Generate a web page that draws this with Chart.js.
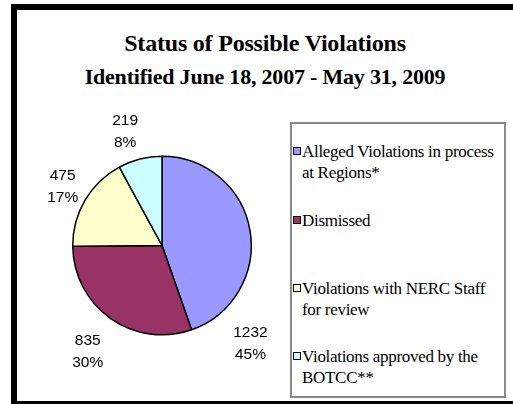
<!DOCTYPE html>
<html>
<head>
<meta charset="utf-8">
<script src="https://cdn.jsdelivr.net/npm/chart.js@4/dist/chart.umd.min.js"></script>
<style>
  html, body { margin: 0; padding: 0; width: 513px; height: 404px; overflow: hidden; background: #fff; }
  #frame { position: absolute; left: 11px; top: 4px; width: 540px; height: 403px; box-sizing: border-box; border: 6px solid #000; }
  #title { position: absolute; left: 17px; width: 496px; top: 26px; text-align: center; font-family: "Liberation Serif", "Times New Roman", serif; font-weight: bold; color: #000; }
  #title .l1 { font-size: 24px; line-height: 34px; letter-spacing: -0.2px; }
  #title .l2 { font-size: 22px; line-height: 34px; letter-spacing: -0.2px; }
  #legend { position: absolute; left: 290px; top: 122px; width: 216px; height: 276px; box-sizing: border-box; border: 2px solid #8a8a8a; font-family: "Liberation Serif", "Times New Roman", serif; font-size: 17px; color: #000; }
  .item { position: absolute; left: 1px; width: 213px; line-height: 21px; padding-left: 9px; box-sizing: border-box; letter-spacing: -0.3px; }
  .item .sw { position: absolute; left: 0; top: 6px; width: 6px; height: 6px; border: 1.5px solid #000; }
  #c { position: absolute; left: 0; top: 0; }
</style>
</head>
<body>
<div id="frame"></div>
<div id="title"><div class="l1">Status of Possible Violations</div><div class="l2">Identified June 18, 2007 - May 31, 2009</div></div>
<div id="legend"></div>
<canvas id="c" width="513" height="404"></canvas>
<script>
const categories = [
  "Alleged Violations in process at Regions*",
  "Dismissed",
  "Violations with NERC Staff for review",
  "Violations approved by the BOTCC**"
];
const counts = [1232, 835, 475, 219];
const percentLabels = ["45%", "30%", "17%", "8%"];
const sliceColors = ["#9999FF", "#993366", "#FFFFCC", "#CCFFFF"];

const labelPlugin = {
  id: 'outsideLabels',
  afterDatasetsDraw(chart, args, opts) {
    const ctx = chart.ctx;
    const meta = chart.getDatasetMeta(0);
    ctx.save();
    ctx.font = '15.5px "Liberation Sans", Arial, sans-serif';
    ctx.fillStyle = '#000';
    ctx.textAlign = 'center';
    ctx.textBaseline = 'middle';
    meta.data.forEach((arc, i) => {
      const p = arc.getProps(['x', 'y', 'startAngle', 'endAngle', 'outerRadius'], true);
      let a = (p.startAngle + p.endAngle) / 2;
      if (opts.angles && opts.angles[i] != null) a = opts.angles[i] * Math.PI / 180;
      const r = p.outerRadius + opts.gaps[i];
      const cx = p.x + Math.cos(a) * r;
      const cy = p.y + Math.sin(a) * r;
      const v = chart.data.datasets[0].data[i];
      ctx.fillText(String(v), cx, cy - 11);
      ctx.fillText(percentLabels[i], cx, cy + 11);
    });
    ctx.restore();
  }
};

const chart = new Chart(document.getElementById('c'), {
  type: 'pie',
  data: {
    labels: categories,
    datasets: [{
      data: counts,
      backgroundColor: sliceColors,
      borderColor: '#000',
      borderWidth: 1.5
    }]
  },
  options: {
    responsive: false,
    animation: false,
    layout: { padding: { left: 72, right: 261, top: 155, bottom: 68 } },
    plugins: {
      legend: { display: false },
      title: { display: false },
      tooltip: { enabled: false },
      outsideLabels: { gaps: [43, 40, 26, 30], angles: [48, null, null, 252] }
    }
  },
  plugins: [labelPlugin]
});

// HTML legend built from chart data
const legendEl = document.getElementById('legend');
const rowTops = [17, 86, 154, 222];
chart.data.labels.forEach((lab, i) => {
  const d = document.createElement('div');
  d.className = 'item';
  d.style.top = rowTops[i] + 'px';
  const sw = document.createElement('span');
  sw.className = 'sw';
  sw.style.background = chart.data.datasets[0].backgroundColor[i];
  d.appendChild(sw);
  d.appendChild(document.createTextNode(lab));
  legendEl.appendChild(d);
});
</script>
</body>
</html>
